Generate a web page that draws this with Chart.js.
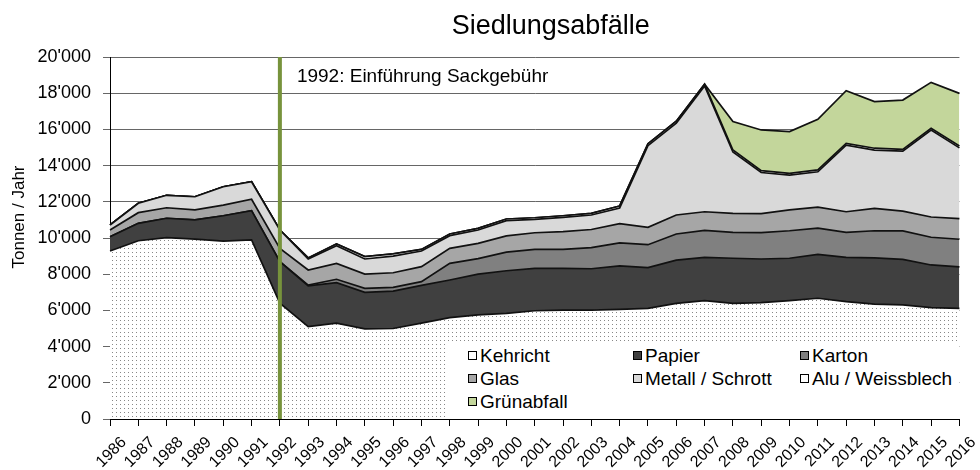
<!DOCTYPE html>
<html>
<head>
<meta charset="utf-8">
<script src="https://cdn.jsdelivr.net/npm/chart.js@4.4.1/dist/chart.umd.min.js"></script>
<style>
  body { margin: 0; background: #fff; }
  #wrap { position: relative; width: 980px; height: 470px; }
  #legend {
    position: absolute; left: 447px; top: 343px; width: 511px; height: 75px;
    background: #fff; box-sizing: border-box; padding: 1px 0 0 21px;
    display: grid; grid-template-columns: 165px 167px auto; grid-auto-rows: 23px;
    font-family: "Liberation Sans", Arial, sans-serif; font-size: 19px; color: #000;
  }
  #legend div { display: flex; align-items: center; white-space: nowrap; }
  #legend span.box {
    display: inline-block; width: 7px; height: 7px; border: 1px solid #000; margin-right: 3px;
  }
</style>
</head>
<body>
<div id="wrap">
  <canvas id="chart" width="980" height="470"></canvas>
  <div id="legend"></div>
</div>
<script>
// data (tonnes per year)
const years = ["1986","1987","1988","1989","1990","1991","1992","1993","1994","1995","1996",
  "1997","1998","1999","2000","2001","2002","2003","2004","2005","2006","2007","2008",
  "2009","2010","2011","2012","2013","2014","2015","2016"];

const kehricht = [9280,9850,10020,9940,9830,9890,6400,5100,5300,4980,5000,
  5300,5600,5750,5840,5980,6020,6020,6060,6110,6390,6540,6390,
  6430,6540,6670,6480,6350,6300,6150,6110];
const papier = [790,960,1070,1060,1400,1620,2290,2250,2230,2020,2070,
  2080,2080,2250,2350,2340,2300,2280,2400,2250,2390,2390,2490,
  2410,2340,2430,2450,2550,2520,2360,2300];
const karton = [0,0,0,0,0,0,0,50,190,220,200,
  210,920,860,1030,1050,1050,1170,1270,1270,1440,1490,1430,
  1460,1520,1450,1380,1500,1570,1530,1520];
const glas = [370,590,580,550,590,630,740,830,880,790,810,
  830,830,840,900,920,980,1000,1060,960,1050,1030,1050,
  1050,1150,1150,1140,1240,1090,1120,1140];
const metall = [280,520,690,730,1010,970,1010,610,970,830,920,
  860,700,740,840,740,790,800,870,4510,5080,6950,3400,
  2270,1920,1960,3680,3220,3320,4800,3910];
const alu = [0,0,0,0,0,0,0,60,100,130,120,
  90,90,90,90,90,90,90,110,100,100,100,100,
  100,100,100,100,100,100,100,100];
const gruen = [0,0,0,0,0,0,0,0,0,0,0,
  0,0,0,0,0,0,0,0,0,0,0,1570,
  2250,2310,2800,2910,2580,2720,2540,2910];

const yTicks = [0,2000,4000,6000,8000,10000,12000,14000,16000,18000,20000];

// dotted fill for Kehricht
function dotPattern() {
  const c = document.createElement("canvas");
  c.width = 4; c.height = 4;
  const g = c.getContext("2d");
  g.fillStyle = "#fff";
  g.fillRect(0, 0, 4, 4);
  g.fillStyle = "#888";
  g.fillRect(0, 0, 1, 1);
  return g.createPattern(c, "repeat");
}

function fmt(v) {
  return String(v).replace(/\B(?=(\d{3})+(?!\d))/g, "'");
}

const series = [
  { label: "Kehricht", data: kehricht, bg: dotPattern(), swatch: "#fff" },
  { label: "Papier", data: papier, bg: "#404040" },
  { label: "Karton", data: karton, bg: "#808080" },
  { label: "Glas", data: glas, bg: "#a6a6a6" },
  { label: "Metall / Schrott", data: metall, bg: "#d9d9d9" },
  { label: "Alu / Weissblech", data: alu, bg: "#ffffff" },
  { label: "Grünabfall", data: gruen, bg: "#c3d69b" },
];

const datasets = series.map((s, i) => ({
  label: s.label,
  data: s.data,
  backgroundColor: s.bg,
  borderColor: "#111",
  borderWidth: 1.7,
  fill: i === 0 ? "origin" : "-1",
  pointRadius: 0,
  tension: 0,
}));

// 1992 marker line + text, title and y axis title
const extras = {
  id: "extras",
  afterDatasetsDraw(chart) {
    const { ctx, chartArea, scales } = chart;
    const x = scales.x.getPixelForValue(years.indexOf("1992"));
    ctx.save();
    ctx.strokeStyle = "#77933c";
    ctx.lineWidth = 4;
    ctx.beginPath();
    ctx.moveTo(x, chartArea.top);
    ctx.lineTo(x, chartArea.bottom);
    ctx.stroke();
    ctx.fillStyle = "#000";
    ctx.font = "19px 'Liberation Sans', Arial, sans-serif";
    ctx.textBaseline = "middle";
    ctx.fillText("1992: Einführung Sackgebühr", x + 17, 77);
    ctx.restore();
  },
  afterDraw(chart) {
    const { ctx, chartArea } = chart;
    ctx.save();
    ctx.fillStyle = "#000";
    ctx.font = "27px 'Liberation Sans', Arial, sans-serif";
    ctx.textAlign = "center";
    ctx.textBaseline = "alphabetic";
    ctx.fillText("Siedlungsabfälle", (chartArea.left + chartArea.right) / 2 + 16, 34);
    // y axis title, sits a bit above the middle like the original
    ctx.font = "17px 'Liberation Sans', Arial, sans-serif";
    ctx.textBaseline = "middle";
    ctx.translate(19, 217);
    ctx.rotate(-Math.PI / 2);
    ctx.fillText("Tonnen / Jahr", 0, 0);
    ctx.restore();
  },
};

const chart = new Chart(document.getElementById("chart"), {
  type: "line",
  data: { labels: years, datasets: datasets },
  options: {
    responsive: false,
    animation: false,
    layout: { padding: { top: 57, right: 4, left: 0, bottom: 0 } },
    plugins: {
      legend: { display: false },
      tooltip: { enabled: false },
      title: { display: false },
    },
    scales: {
      x: {
        offset: false,
        grid: { drawOnChartArea: false, tickLength: 7, color: "#000" },
        border: { color: "#000", width: 1 },
        ticks: {
          autoSkip: false, minRotation: 45, maxRotation: 45, padding: 7, labelOffset: 14,
          color: "#000", font: { family: "'Liberation Sans', Arial, sans-serif", size: 16 },
        },
        afterFit(scale) { scale.height = 51; },
      },
      y: {
        stacked: true,
        min: 0, max: 20000,
        afterBuildTicks(scale) { scale.ticks = yTicks.map(v => ({ value: v })); },
        grid: { color: "#666", tickLength: 7 },
        border: { color: "#000", width: 1 },
        ticks: {
          padding: 12, color: "#000",
          font: { family: "'Liberation Sans', Arial, sans-serif", size: 18 },
          callback: v => fmt(v),
        },
        afterFit(scale) { scale.width = 110; },
      },
    },
  },
  plugins: [extras],
});

// legend in three columns
const legend = document.getElementById("legend");
series.forEach(s => {
  const item = document.createElement("div");
  const box = document.createElement("span");
  box.className = "box";
  box.style.background = s.swatch || s.bg;
  item.appendChild(box);
  item.appendChild(document.createTextNode(s.label));
  legend.appendChild(item);
});
</script>
</body>
</html>
